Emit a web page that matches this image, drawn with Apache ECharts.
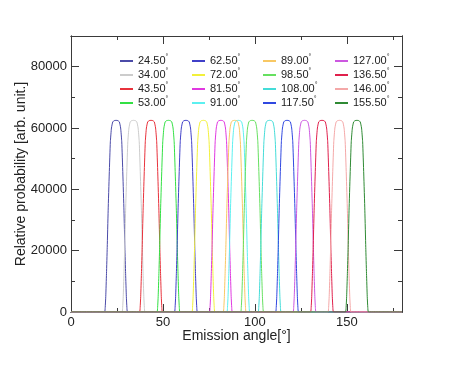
<!DOCTYPE html>
<html><head><meta charset="utf-8">
<script src="https://cdn.jsdelivr.net/npm/echarts@6/dist/echarts.min.js"></script>
<style>html,body{margin:0;padding:0;background:#fff}#c{width:474px;height:368px}</style>
</head><body><div id="c"></div>
<script>
const seriesNames = ['24.50','34.00','43.50','53.00','62.50','72.00','81.50','91.00','89.00','98.50','108.00','117.50','127.00','136.50','146.00','155.50'];
const seriesColors = ['#4b4ba8','#cccccc','#e8323c','#33e044','#4040c8','#f2f03a','#e038e0','#5cf0f0','#f8c864','#66e060','#44dcd8','#3048e0','#cc58e0','#e0204c','#f4a8a8','#2f8a34'];
// intensity samples read from the peaks (same heights for every peak)
const profileY = [0, 1500, 5000, 12500, 21000, 33000, 45000, 55500, 60000, 62000, 62400, 62500, 62400, 62000, 60000, 55500, 45000, 33000, 21000, 12500, 5000, 1500, 0];
const x_24_50  = [18.2, 18.6, 18.9, 19.3, 19.7, 20.2, 20.8, 21.4, 22.0, 22.7, 23.5, 24.5, 25.5, 26.3, 27.0, 27.6, 28.2, 28.8, 29.3, 29.7, 30.1, 30.4, 30.8];
const x_34_00  = [27.7, 28.1, 28.4, 28.8, 29.2, 29.7, 30.3, 30.9, 31.5, 32.2, 33.0, 34.0, 35.0, 35.8, 36.5, 37.1, 37.7, 38.3, 38.8, 39.2, 39.6, 39.9, 40.3];
const x_43_50  = [37.2, 37.6, 37.9, 38.3, 38.7, 39.2, 39.8, 40.4, 41.0, 41.7, 42.5, 43.5, 44.5, 45.3, 46.0, 46.6, 47.2, 47.8, 48.3, 48.7, 49.1, 49.4, 49.8];
const x_53_00  = [46.7, 47.1, 47.4, 47.8, 48.2, 48.7, 49.3, 49.9, 50.5, 51.2, 52.0, 53.0, 54.0, 54.8, 55.5, 56.1, 56.7, 57.3, 57.8, 58.2, 58.6, 58.9, 59.3];
const x_62_50  = [56.2, 56.6, 56.9, 57.3, 57.7, 58.2, 58.8, 59.4, 60.0, 60.7, 61.5, 62.5, 63.5, 64.3, 65.0, 65.6, 66.2, 66.8, 67.3, 67.7, 68.1, 68.4, 68.8];
const x_72_00  = [65.7, 66.1, 66.4, 66.8, 67.2, 67.7, 68.3, 68.9, 69.5, 70.2, 71.0, 72.0, 73.0, 73.8, 74.5, 75.1, 75.7, 76.3, 76.8, 77.2, 77.6, 77.9, 78.3];
const x_81_50  = [75.2, 75.6, 75.9, 76.3, 76.7, 77.2, 77.8, 78.4, 79.0, 79.7, 80.5, 81.5, 82.5, 83.3, 84.0, 84.6, 85.2, 85.8, 86.3, 86.7, 87.1, 87.4, 87.8];
const x_91_00  = [84.7, 85.1, 85.4, 85.8, 86.2, 86.7, 87.3, 87.9, 88.5, 89.2, 90.0, 91.0, 92.0, 92.8, 93.5, 94.1, 94.7, 95.3, 95.8, 96.2, 96.6, 96.9, 97.3];
const x_89_00  = [82.7, 83.1, 83.4, 83.8, 84.2, 84.7, 85.3, 85.9, 86.5, 87.2, 88.0, 89.0, 90.0, 90.8, 91.5, 92.1, 92.7, 93.3, 93.8, 94.2, 94.6, 94.9, 95.3];
const x_98_50  = [92.2, 92.6, 92.9, 93.3, 93.7, 94.2, 94.8, 95.4, 96.0, 96.7, 97.5, 98.5, 99.5, 100.3, 101.0, 101.6, 102.2, 102.8, 103.3, 103.7, 104.1, 104.4, 104.8];
const x_108_00 = [101.7, 102.1, 102.4, 102.8, 103.2, 103.7, 104.3, 104.9, 105.5, 106.2, 107.0, 108.0, 109.0, 109.8, 110.5, 111.1, 111.7, 112.3, 112.8, 113.2, 113.6, 113.9, 114.3];
const x_117_50 = [111.2, 111.6, 111.9, 112.3, 112.7, 113.2, 113.8, 114.4, 115.0, 115.7, 116.5, 117.5, 118.5, 119.3, 120.0, 120.6, 121.2, 121.8, 122.3, 122.7, 123.1, 123.4, 123.8];
const x_127_00 = [120.7, 121.1, 121.4, 121.8, 122.2, 122.7, 123.3, 123.9, 124.5, 125.2, 126.0, 127.0, 128.0, 128.8, 129.5, 130.1, 130.7, 131.3, 131.8, 132.2, 132.6, 132.9, 133.3];
const x_136_50 = [130.2, 130.6, 130.9, 131.3, 131.7, 132.2, 132.8, 133.4, 134.0, 134.7, 135.5, 136.5, 137.5, 138.3, 139.0, 139.6, 140.2, 140.8, 141.3, 141.7, 142.1, 142.4, 142.8];
const x_146_00 = [139.7, 140.1, 140.4, 140.8, 141.2, 141.7, 142.3, 142.9, 143.5, 144.2, 145.0, 146.0, 147.0, 147.8, 148.5, 149.1, 149.7, 150.3, 150.8, 151.2, 151.6, 151.9, 152.3];
const x_155_50 = [149.2, 149.6, 149.9, 150.3, 150.7, 151.2, 151.8, 152.4, 153.0, 153.7, 154.5, 155.5, 156.5, 157.3, 158.0, 158.6, 159.2, 159.8, 160.3, 160.7, 161.1, 161.4, 161.8];
const peakX = [x_24_50,x_34_00,x_43_50,x_53_00,x_62_50,x_72_00,x_81_50,x_91_00,x_89_00,x_98_50,x_108_00,x_117_50,x_127_00,x_136_50,x_146_00,x_155_50];
const legendColumns = [
  ['24.50','34.00','43.50','53.00'],
  ['62.50','72.00','81.50','91.00'],
  ['89.00','98.50','108.00','117.50'],
  ['127.00','136.50','146.00','155.50']
];
const xRange = [0, 180];
const yRange = [0, 90000];

const FONT = '"Liberation Sans", Arial, sans-serif';
const frame = {lineStyle: {color: '#3a3a3a', width: 1}};
const chart = echarts.init(document.getElementById('c'), null, {renderer: 'canvas'});

function axisBase(extra) {
  return Object.assign({
    type: 'value',
    axisLine: Object.assign({show: true, onZero: false}, frame),
    splitLine: {show: false},
    axisTick: {show: true, inside: true, length: 8, lineStyle: {color: '#3a3a3a', width: 1}},
    axisLabel: {show: false}
  }, extra);
}
const minorTick = {show: true, inside: true, length: 4, lineStyle: {color: '#3a3a3a', width: 1}};
const xAxes = [
  axisBase({position: 'bottom', min: xRange[0], max: xRange[1], interval: 50,
    name: 'Emission angle[°]', nameLocation: 'middle', nameGap: 17, nameMoveOverlap: false,
    nameTextStyle: {fontFamily: FONT, fontSize: 14, color: '#222'},
    axisLabel: {show: true, margin: 4, fontFamily: FONT, fontSize: 13, color: '#222', showMaxLabel: false,
      formatter: v => String(v)}}),
  axisBase({position: 'bottom', min: xRange[0], max: xRange[1], interval: 25, axisTick: minorTick}),
  axisBase({position: 'top', min: xRange[0], max: xRange[1], interval: 50}),
  axisBase({position: 'top', min: xRange[0], max: xRange[1], interval: 25, axisTick: minorTick})
];
const yAxes = [
  axisBase({position: 'left', min: yRange[0], max: yRange[1], interval: 20000,
    name: 'Relative probability [arb. unit.]', nameLocation: 'middle', nameGap: 43, nameMoveOverlap: false,
    nameTextStyle: {fontFamily: FONT, fontSize: 14, color: '#222'},
    axisLabel: {show: true, margin: 4, fontFamily: FONT, fontSize: 13, color: '#222', showMaxLabel: false,
      formatter: v => String(v)}}),
  axisBase({position: 'left', min: yRange[0], max: yRange[1], interval: 10000, axisTick: minorTick}),
  axisBase({position: 'right', min: yRange[0], max: yRange[1], interval: 20000}),
  axisBase({position: 'right', min: yRange[0], max: yRange[1], interval: 10000, axisTick: minorTick})
];

const series = seriesNames.map((n, i) => {
  const pts = [[xRange[0], 0]];
  peakX[i].forEach((x, k) => pts.push([x, profileY[k]]));
  pts.push([xRange[1], 0]);
  return {
    name: n, type: 'line', xAxisIndex: 0, yAxisIndex: 0,
    data: pts, showSymbol: false, symbol: 'none', smooth: 0.15,
    color: seriesColors[i],
    lineStyle: {width: 1, color: seriesColors[i]},
    itemStyle: {color: seriesColors[i]},
    silent: true, animation: false
  };
});

const legendLefts = [120, 192, 263, 335];
const legends = legendColumns.map((col, j) => ({
  data: col, orient: 'vertical', left: legendLefts[j], top: 54,
  itemWidth: 13, itemHeight: 2, itemGap: 0, icon: 'rect', padding: 0,
  selectedMode: false,
  formatter: n => '{v|' + n + '}{d|°}',
  textStyle: {
    fontFamily: FONT, fontSize: 11, color: '#222', lineHeight: 14,
    rich: {
      v: {fontFamily: FONT, fontSize: 11, color: '#222', lineHeight: 14},
      d: {fontFamily: FONT, fontSize: 7, color: '#222', lineHeight: 14, verticalAlign: 'top', padding: [0, 0, 6, 0]}
    }
  }
}));

chart.setOption({
  animation: false,
  backgroundColor: '#fff',
  grid: {left: 71, right: 72, top: 36, bottom: 56, containLabel: false, outerBoundsMode: 'none'},
  xAxis: xAxes,
  yAxis: yAxes,
  legend: legends,
  series: series
});
</script></body></html>
